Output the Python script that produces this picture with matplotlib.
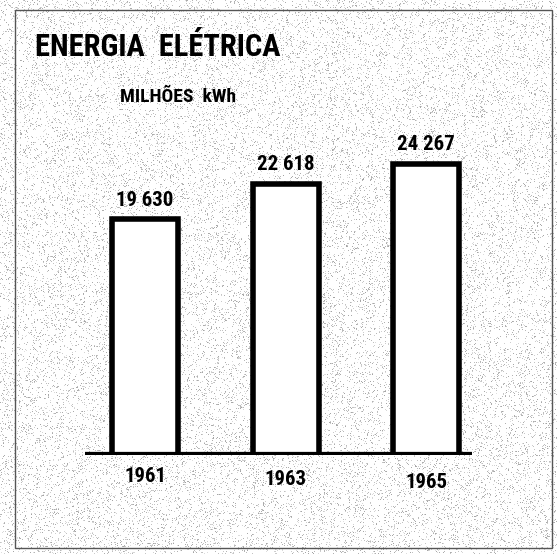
import numpy as np
import matplotlib.pyplot as plt
from matplotlib.patches import Rectangle

# Energia eletrica, milhoes de kWh
anos = ['1961', '1963', '1965']
consumo = [19630, 22618, 24267]
rotulos = ['19 630', '22 618', '24 267']

W, H = 557, 554
fonte = 'Roboto Condensed'
fig = plt.figure(figsize=(W / 100, H / 100), dpi=100)
fig.patch.set_facecolor('white')

# textura granulada do papel
bg = fig.add_axes([0, 0, 1, 1], zorder=-5)
rng = np.random.default_rng(7)
grao = rng.random((H, W))
textura = np.where(grao < 0.12, 0.4 + 0.4 * rng.random((H, W)), 1.0)
bg.imshow(textura, cmap='gray', vmin=0, vmax=1, aspect='auto',
          interpolation='nearest', alpha=0.6)
bg.axis('off')

# moldura
fig.patches.append(Rectangle((15 / W, 6 / H), 537 / W, 538 / H,
                             transform=fig.transFigure, fill=False,
                             edgecolor='#555555', linewidth=1.0))

ax = fig.add_axes([85 / W, 99 / H, 387 / W, 360 / H])
ax.set_facecolor('none')
x = np.arange(len(anos))
ax.bar(x, consumo, width=0.47, color='white', edgecolor='black',
       linewidth=4, zorder=3)
ax.axhline(0, color='black', linewidth=4.5, zorder=4)

for xi, v, r in zip(x, consumo, rotulos):
    ax.text(xi, v + 800, r, ha='center', va='bottom', fontsize=15,
            fontweight='bold', family=fonte)
for xi, a in zip(x, anos):
    ax.text(xi, -1000 - 250 * xi, a, ha='center', va='top', fontsize=15,
            fontweight='bold', family=fonte)

ax.set_xlim(-0.427, 2.327)
ax.set_ylim(0, 30000)
ax.axis('off')

fig.text(35 / W, 1 - 47 / H, 'ENERGIA  ELÉTRICA', fontsize=22,
         fontweight='black', family=fonte, va='center')
fig.text(120 / W, 1 - 97 / H, 'MILHÕES  kWh', fontsize=14,
         fontweight='bold', family=fonte, va='center')

fig.savefig('out.png', dpi=100, facecolor='white')
